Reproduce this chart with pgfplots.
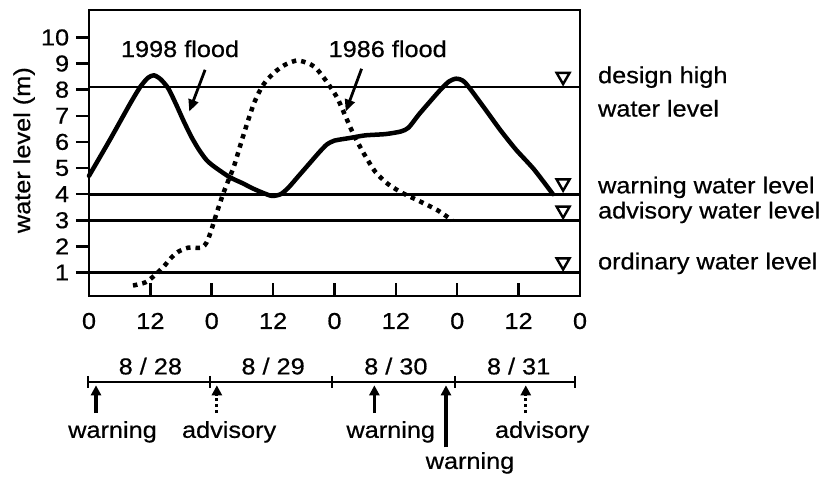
\documentclass[border=0pt]{standalone}
\usepackage{fontspec}
\setmainfont{Liberation Sans}[FakeStretch=1.1, FakeBold=0.6]
\usepackage{pgfplots}
\pgfplotsset{compat=1.18}
\usetikzlibrary{arrows.meta}
\begin{document}
\fontsize{23}{27}\selectfont
\begin{tikzpicture}[lab/.style={inner sep=0pt}]
\useasboundingbox (-89pt,-181pt) rectangle (738pt,296pt);
\begin{axis}[
  at={(0pt,0pt)}, anchor=south west,
  scale only axis, width=491pt, height=286pt,
  xmin=0, xmax=96, ymin=0.1, ymax=11.05,
  clip=false,
  axis line style={line width=2.5pt},
  xtick={0,12,...,96}, xticklabels={0,12,0,12,0,12,0,12,0},
  ytick={1,2,...,10},
  xtick pos=bottom, ytick pos=left,
  xtick align=inside, ytick align=outside,
  major tick length=13pt,
  tick style={line width=2.5pt, black},
  xticklabel style={yshift=-9pt},
  yticklabel style={xshift=1pt},
  /pgf/number format/assume math mode=true,
  ylabel={water level (m)},
  ylabel style={at={(axis description cs:-0.132,0.51)}, anchor=center},
]
% level lines
\addplot[line width=2.8pt] coordinates {(0,8.1) (96,8.1)};
\addplot[line width=2.8pt] coordinates {(0,4) (96,4)};
\addplot[line width=2.6pt] coordinates {(0,3) (96,3)};
\addplot[line width=2.6pt] coordinates {(0,1) (96,1)};
% 1998 flood
\addplot[line width=4.5pt, smooth, tension=0.4, line join=round, line cap=round] coordinates {
(0,4.70) (4,6.05) (8,7.45) (10,8.1) (11.5,8.45) (12.7,8.55) (14,8.4) (15.5,8.05)
(17,7.45) (18.5,6.8) (20,6.2) (21.5,5.7) (23,5.3) (24.5,5.05) (27.5,4.65) (30,4.42)
(32,4.22) (34,4.05) (35.8,3.93) (37.5,4.0) (39,4.25) (41,4.7) (43,5.15) (45,5.6)
(46.5,5.9) (48,6.05) (51,6.15) (54,6.25) (58,6.3) (61,6.4) (62.5,6.55) (64.5,7.05)
(66.7,7.55) (68.5,7.95) (70.3,8.3) (71.8,8.42) (73.5,8.28) (77.1,7.35)
(80.4,6.46) (83.5,5.7) (87,4.95) (90.7,4.0)};
% 1986 flood
\addplot[line width=4.5pt, smooth, tension=0.4, dash pattern=on 4.5pt off 5pt] coordinates {
(8.6,0.5) (11,0.62) (12.6,0.85) (14.5,1.2) (16,1.55) (17.5,1.8) (19.4,1.95) (22,1.95)
(23,2.15) (23.8,2.55) (25,3.3) (26.2,4.0) (27.4,4.6) (28.4,5.1) (30.1,6.2) (32.1,7.4)
(33.5,8.0) (34.7,8.35) (36.5,8.7) (38.3,8.95) (40.7,9.12) (43,9.0) (44.5,8.8)
(46.5,8.3) (48.5,7.7) (50,7.05) (51.6,6.34) (53.6,5.6) (56,4.85) (58.5,4.38)
(61.4,4.03) (64.1,3.78) (68,3.4) (71,3.0)};
% level markers
\addplot[only marks, black, mark=triangle, mark size=7.5pt,
  mark options={rotate=180, line width=2.4pt, fill=white}] coordinates {
(92.7,8.5) (92.7,4.42) (92.7,3.38) (92.7,1.4)};
% labels in plot
\node[lab, anchor=base] at (axis cs:17.8,9.25) {1998 flood};
\node[lab, anchor=base] at (axis cs:58.4,9.25) {1986 flood};
\draw[line width=2.8pt, -{Triangle[width=10pt,length=12pt]}] (axis cs:22.7,8.76) -- (axis cs:19.6,7.16);
\draw[line width=2.8pt, -{Triangle[width=10pt,length=12pt]}] (axis cs:53.3,8.80) -- (axis cs:50.2,7.16);
% right labels
\node[lab, anchor=base west] at (axis cs:99.5,8.25) {design high};
\node[lab, anchor=base west] at (axis cs:99.5,6.97) {water level};
\node[lab, anchor=base west] at (axis cs:99.5,4.03) {warning water level};
\node[lab, anchor=base west] at (axis cs:99.5,3.07) {advisory water level};
\node[lab, anchor=base west] at (axis cs:99.5,1.12) {ordinary water level};
% timeline
\draw[line width=2.2pt] (axis cs:-0.1,-3.195) -- (axis cs:95.1,-3.195);
\pgfplotsinvokeforeach{-0.1,23.7,47.5,71.5,95.1}{
  \draw[line width=2pt] (axis cs:#1,-2.96) -- (axis cs:#1,-3.43);
}
\node[lab, anchor=base] at (axis cs:12,-2.90) {8 / 28};
\node[lab, anchor=base] at (axis cs:36,-2.90) {8 / 29};
\node[lab, anchor=base] at (axis cs:60,-2.90) {8 / 30};
\node[lab, anchor=base] at (axis cs:84,-2.90) {8 / 31};
\draw[line width=3.5pt, -{Triangle[width=10pt,length=10pt]}] (axis cs:1.37,-4.38) -- (axis cs:1.37,-3.32);
\draw[line width=3.2pt, dash pattern=on 3.5pt off 2.5pt, -{Triangle[width=10pt,length=10pt]}] (axis cs:25.0,-4.38) -- (axis cs:25.0,-3.32);
\draw[line width=3.5pt, -{Triangle[width=10pt,length=10pt]}] (axis cs:55.8,-4.38) -- (axis cs:55.8,-3.32);
\draw[line width=3.5pt, -{Triangle[width=10pt,length=10pt]}] (axis cs:69.8,-5.70) -- (axis cs:69.8,-3.32);
\draw[line width=3.2pt, dash pattern=on 3.5pt off 2.5pt, -{Triangle[width=10pt,length=10pt]}] (axis cs:85.4,-4.38) -- (axis cs:85.4,-3.32);
\node[lab, anchor=base] at (axis cs:4.6,-5.33) {warning};
\node[lab, anchor=base] at (axis cs:27.4,-5.33) {advisory};
\node[lab, anchor=base] at (axis cs:59.0,-5.33) {warning};
\node[lab, anchor=base] at (axis cs:74.5,-6.52) {warning};
\node[lab, anchor=base] at (axis cs:88.6,-5.33) {advisory};
\end{axis}
\end{tikzpicture}
\end{document}
